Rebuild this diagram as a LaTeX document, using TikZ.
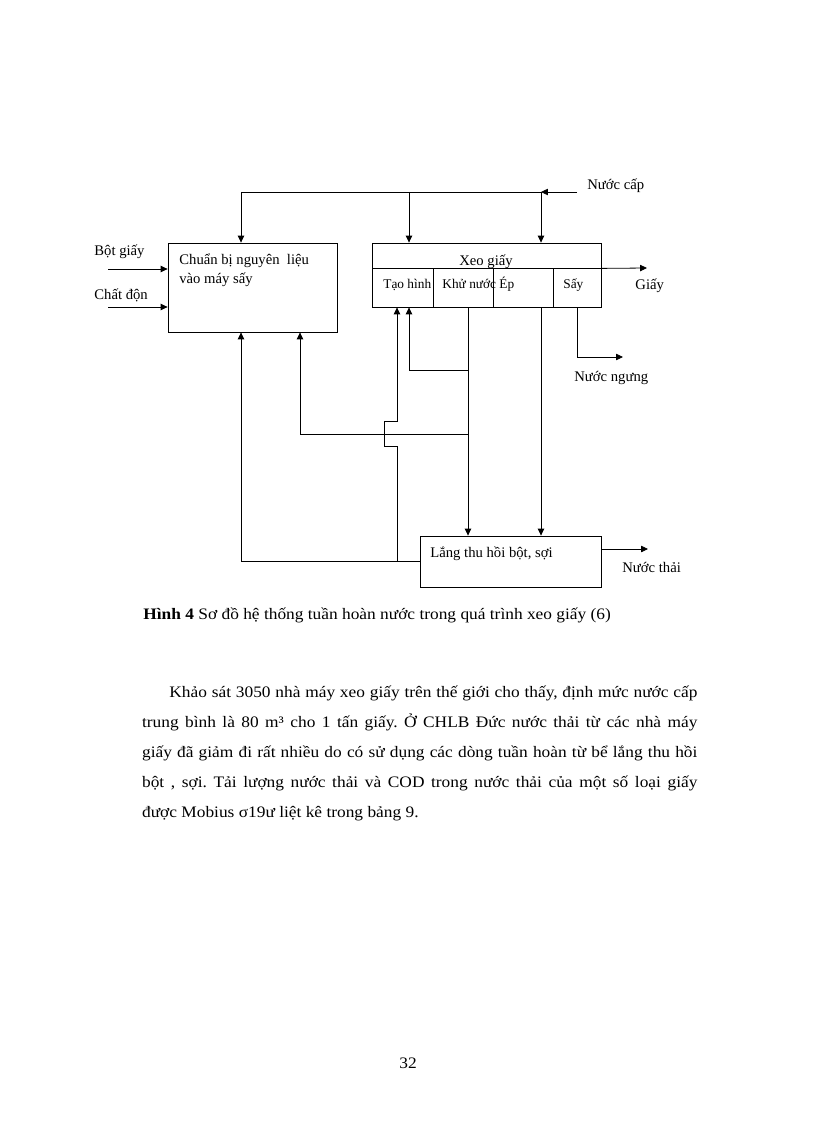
\documentclass[tikz,border=0pt]{standalone}
\usepackage{fontspec}
\setmainfont{Liberation Serif}
\newfontfamily\bodyfont[FakeStretch=1.085]{Liberation Serif}
\usetikzlibrary{arrows.meta,fit}
\frenchspacing

\tikzset{
	block/.style={draw, inner sep=0pt, fit={#1}},
	lbl/.style={font=\fontsize{11}{13}\selectfont, inner sep=0pt, anchor=base west},
	sub/.style={font=\fontsize{10}{12}\selectfont, inner sep=0pt, anchor=base west},
	body/.style={font=\bodyfont\fontsize{12}{14}\selectfont, inner sep=0pt, anchor=base west},
}

\begin{document}
\begin{tikzpicture}[x=0.75pt,y=-0.75pt,line width=0.6pt,>={Triangle[length=5.2pt,width=4.8pt]}]
	\path[fill=white,use as bounding box] (0,0) rectangle (816,1123);
	
	\node[block={(168,243) (337,332)}] (prep) {};
	\node[block={(372,243) (601,268)}] (xeo) {};
	\node[block={(372,268) (433,307)}] (tao) {};
	\node[block={(433,268) (493,307)}] (khu) {};
	\node[block={(493,268) (553,307)}] (ep) {};
	\node[block={(553,268) (601,307)}] (say) {};
	\node[block={(420,536) (601,587)}] (lang) {};
	
	\node[lbl] (prepA) at (179,264) {Chuẩn bị nguyên\ \ liệu};
	\node[lbl] (prepB) at (179,283) {vào máy sấy};
	\node[lbl,anchor=base] (xeoT) at (486,265) {Xeo giấy};
	\node[sub] (taoT) at (383,288) {Tạo hình};
	\node[sub] (khuT) at (442,288) {Khử nước};
	\node[sub] (epT) at (499,288) {Ép};
	\node[sub] (sayT) at (563,288) {Sấy};
	\node[lbl] (langT) at (430,557) {Lắng thu hồi bột, sợi};
	\node[lbl] (botT) at (94,255) {Bột giấy};
	\node[lbl] (chatT) at (94,299) {Chất độn};
	\node[lbl] (capT) at (587,190) {Nước cấp};
	\node[lbl] (giayT) at (635,289) {Giấy};
	\node[lbl] (ngungT) at (574,381) {Nước ngưng};
	\node[lbl] (thaiT) at (622,572) {Nước thải};
	
	\coordinate (capIn) at (577,192);
	\coordinate (jR) at (541,192);
	\coordinate (jM) at (409,192);
	\coordinate (jL) at (241,192);
	\draw[->] (capIn) -- (jR);
	\draw (jR) -- (jL);
	\draw[->] (jL) -- (jL |- prep.north);
	\draw[->] (jM) -- (jM |- xeo.north);
	\draw[->] (jR) -- (jR |- xeo.north);
	
	\coordinate (botIn) at (108,269);
	\coordinate (chatIn) at (108,307);
	\draw[->] (botIn) -- (botIn -| prep.west);
	\draw[->] (chatIn) -- (chatIn -| prep.west);
	
	\coordinate (giayOut) at (647,268);
	\coordinate (ngungOut) at (623,357);
	\draw[->] (xeo.south east) -- (giayOut);
	\draw[->] (say.south) |- (ngungOut);
	
	\coordinate (cK) at (468,370);
	\coordinate (retK) at (468,434);
	\coordinate (cP) at (300,434);
	\coordinate (cT) at (397,562);
	\draw[->] (cK |- khu.south) -- (cK |- lang.north);
	\draw[->] (jR |- ep.south) -- (jR |- lang.north);
	\draw[->] (cK) -| (jM |- tao.south);
	\draw[->] (retK) -| (cP |- prep.south);
	\draw[->] (lang.west) -| (jL |- prep.south);
	\draw[->] (cT |- lang.west) -- ++(0,-115) -- ++(-13,0) -- ++(0,-25) -- ++(13,0) -- (cT |- tao.south);
	
	\coordinate (thaiOut) at (648,549);
	\draw[->] (thaiOut -| lang.east) -- (thaiOut);
	
	\node[body] (caption) at (143,619) {\textbf{Hình 4} Sơ đồ hệ thống tuần hoàn nước trong quá trình xeo giấy (6)};
	\node[body] (line1) at (169,697) {\makebox[396pt][s]{Khảo sát 3050 nhà máy xeo giấy trên thế giới cho thấy, định mức nước cấp}};
	\node[body] (line2) at (141.7,727) {\makebox[416.5pt][s]{trung bình là 80 m³ cho 1 tấn giấy. Ở CHLB Đức nước thải từ các nhà máy}};
	\node[body] (line3) at (141.7,757) {\makebox[416.5pt][s]{giấy đã giảm đi rất nhiều do có sử dụng các dòng tuần hoàn từ bể lắng thu hồi}};
	\node[body] (line4) at (141.7,787) {\makebox[416.5pt][s]{bột , sợi. Tải lượng nước thải và COD trong nước thải của một số loại giấy}};
	\node[body] (line5) at (141.7,817) {được Mobius σ19ư liệt kê trong bảng 9.};
	\node[body,anchor=base] (pageNo) at (408,1068) {32};
\end{tikzpicture}
\end{document}
